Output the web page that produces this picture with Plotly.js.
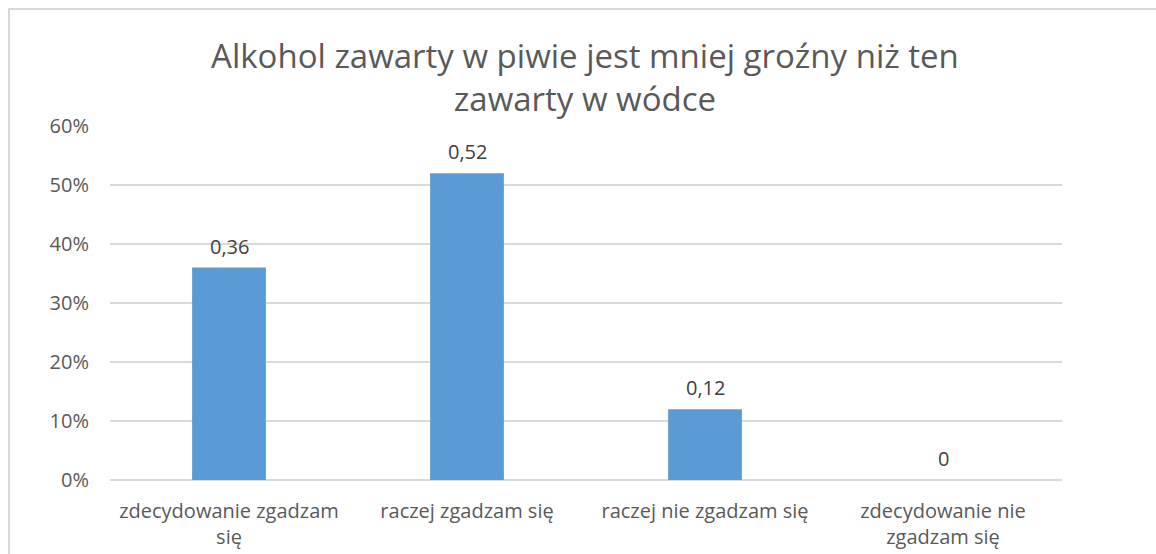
<!DOCTYPE html>
<html><head><meta charset="utf-8">
<script src="https://cdn.plot.ly/plotly-3.0.1.min.js"></script>
<style>
html,body{margin:0;padding:0;background:#fff;overflow:hidden;}
#frame{position:absolute;left:8px;top:8px;width:1200px;height:600px;border-top:2px solid #d9d9d9;border-left:2px solid #d9d9d9;}
#chart{position:absolute;left:0;top:0;width:1156px;height:554px;}
</style></head>
<body>
<div id="frame"></div>
<div id="chart"></div>
<script>
const categories = ["zdecydowanie zgadzam<br>się", "raczej zgadzam się", "raczej nie zgadzam się", "zdecydowanie nie<br>zgadzam się"];
const values = [0.36, 0.52, 0.12, 0];
const valueLabels = ["0,36", "0,52", "0,12", "0"];
const titleText = "Alkohol zawarty w piwie jest mniej groźny niż ten<br>zawarty w wódce";

const FONT = '"Open Sans", sans-serif';
const trace = {
  type: 'bar', x: categories, y: values,
  marker: {color: '#5b9bd5'},
  hoverinfo: 'none'
};
const annotations = categories.map((c, i) => ({
  x: c, y: values[i], xref: 'x', yref: 'y', text: valueLabels[i],
  showarrow: false, yanchor: 'bottom', yshift: 6,
  font: {family: FONT, size: 20, color: '#404040'}
}));
const layout = {
  width: 1156, height: 554,
  margin: {l: 110, r: 94, t: 126, b: 74},
  paper_bgcolor: 'rgba(0,0,0,0)', plot_bgcolor: 'rgba(0,0,0,0)',
  font: {family: FONT, color: '#595959'},
  title: {text: titleText, font: {size: 33, color: '#595959', family: FONT}, x: 0.506, xanchor: 'center', y: 1 - 68/554, yanchor: 'middle', yref: 'container'},
  bargap: 0.69,
  showlegend: false,
  annotations: annotations,
  xaxis: {type: 'category', tickfont: {size: 20, color: '#595959'}, showline: false, showgrid: false, ticks: '', ticklabelstandoff: 17},
  yaxis: {range: [0, 0.6], dtick: 0.1, tickformat: '.0%', gridcolor: '#d9d9d9', gridwidth: 2, zeroline: true, zerolinecolor: '#d9d9d9', zerolinewidth: 2, tickfont: {size: 20, color: '#595959'}, ticklabelstandoff: 20, showline: false}
};
Plotly.newPlot('chart', [trace], layout, {displayModeBar: false, staticPlot: true});
</script>
</body></html>
